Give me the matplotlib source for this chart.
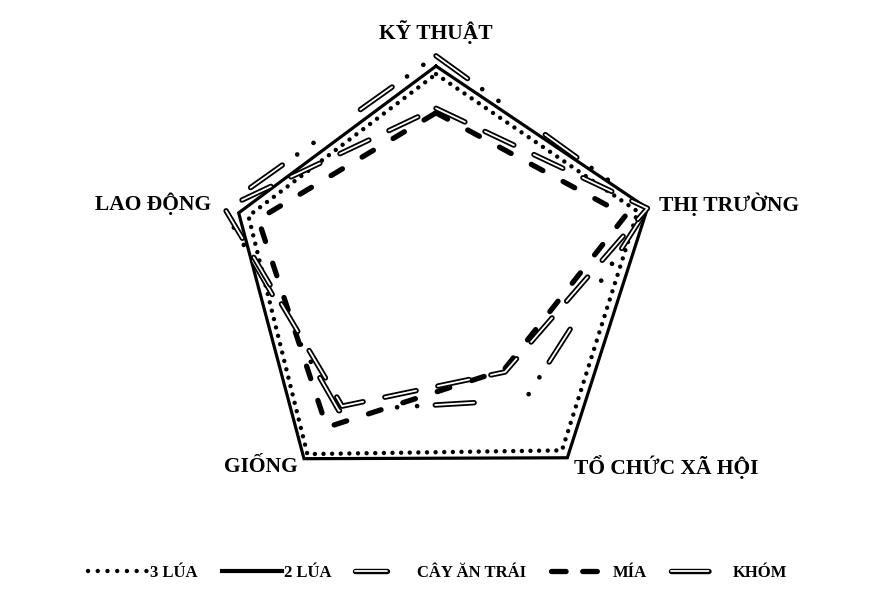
import numpy as np
import matplotlib
matplotlib.use('Agg')
import matplotlib.pyplot as plt
import matplotlib.patheffects as pe
from matplotlib.lines import Line2D

plt.rcParams['font.family'] = ['Liberation Serif', 'DejaVu Serif']
plt.rcParams['font.weight'] = 'bold'
plt.rcParams['lines.scale_dashes'] = False

# tieu chi (truc) theo chieu kim dong ho, bat dau tu tren
tieu_chi = ['KỸ THUẬT', 'THỊ TRƯỜNG', 'TỔ CHỨC XÃ HỘI', 'GIỐNG', 'LAO ĐỘNG']

# diem cho tung mo hinh (thang 0-100)
ba_lua = [89, 93, 94, 96, 86.5]
hai_lua = [92.5, 97.5, 98, 98.5, 91]
cay_an_trai = [97, 97.5, 66.5, 72.5, 98.5]
mia = [72, 87.5, 50.5, 81.5, 82]
khom = [74, 97.5, 51.5, 70, 97.5]

ten_mo_hinh = ['3 LÚA', '2 LÚA', 'CÂY ĂN TRÁI', 'MÍA', 'KHÓM']


def khep(v):
    return list(v) + [v[0]]


goc = np.linspace(0, 2 * np.pi, len(tieu_chi), endpoint=False)
t = khep(goc)

fig = plt.figure(figsize=(8.7, 6.01), dpi=100)
ax = fig.add_axes([208 / 870, 96 / 601, 456 / 870, 456 / 601], projection='polar')
ax.set_theta_zero_location('N')
ax.set_theta_direction(-1)
ax.set_ylim(0, 100)
ax.axis('off')

# duong doi: net trang mong vien den
vien = [pe.Stroke(linewidth=3.9, foreground='black'), pe.Normal()]

ax.plot(t, khep(ba_lua), color='black', lw=3.2, linestyle=(0, (0.01, 6.2)),
        dash_capstyle='round', clip_on=False)
ax.plot(t, khep(hai_lua), color='black', lw=2.3, solid_joinstyle='miter', clip_on=False)
ax.plot(t, khep(cay_an_trai), color='white', lw=1.3, linestyle=(0, (28, 69)),
        dash_capstyle='round', path_effects=vien, clip_on=False)
ax.plot(t, khep(cay_an_trai), color='black', lw=3.4, linestyle=(56, (0.01, 14.4, 0.01, 82.6)),
        dash_capstyle='round', clip_on=False)
ax.plot(t, khep(mia), color='black', lw=3.8, linestyle=(0, (9.5, 16.5)),
        dash_capstyle='round', clip_on=False)
ax.plot(t, khep(khom), color='white', lw=1.3, linestyle=(0, (23, 16)),
        dash_capstyle='round', path_effects=vien, clip_on=False)

# nhan truc
ax.text(goc[0], 107.5, tieu_chi[0], ha='center', va='center', fontsize=15.5)
ax.text(goc[1], 103, tieu_chi[1], ha='left', va='center', fontsize=15.5)
ax.text(goc[2], 103, tieu_chi[2], ha='left', va='center', fontsize=15.5)
ax.text(goc[3], 103, tieu_chi[3], ha='right', va='center', fontsize=15.5)
ax.text(goc[4], 103.5, tieu_chi[4], ha='right', va='center', fontsize=15.5)

# chu thich
p_ba = Line2D([], [], color='black', lw=3.2, linestyle=(0, (0.01, 7.0)), dash_capstyle='round')
p_hai = Line2D([], [], color='black', lw=3.0)
p_cay = Line2D([], [], color='white', lw=1.3, linestyle=(0, (23, 100)),
               dash_capstyle='round', path_effects=vien)
p_mia = Line2D([], [], color='black', lw=3.8, linestyle=(0, (10.5, 12)), dash_capstyle='round')
p_khom = Line2D([], [], color='white', lw=1.3, linestyle=(0, (27, 100)),
                dash_capstyle='round', path_effects=vien)

fig.legend([p_ba, p_hai, p_cay, p_mia, p_khom], ten_mo_hinh, loc='center',
           bbox_to_anchor=(0.503, 1 - 573 / 601), ncol=5, frameon=False, fontsize=12,
           handlelength=3.6, handletextpad=0.12, columnspacing=1.45)

fig.savefig('out.png', dpi=100)
